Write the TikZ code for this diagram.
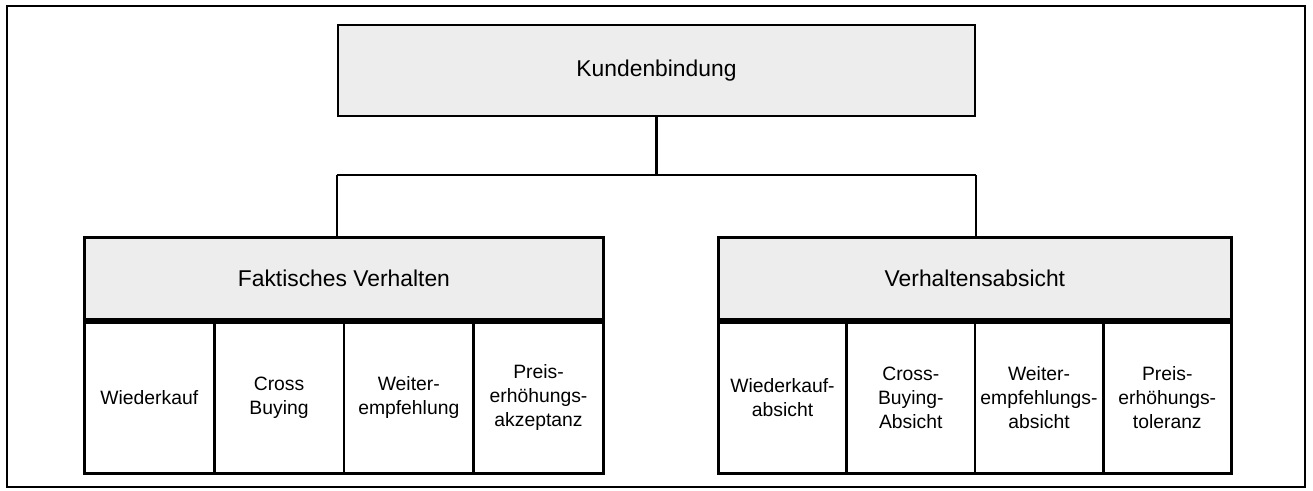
\documentclass[tikz,border=0pt]{standalone}
\usepackage{fontspec}
\setmainfont{Liberation Sans}
\usetikzlibrary{positioning}

\begin{document}
\begin{tikzpicture}[
    x=1cm,y=1cm,
    head/.style={draw,line width=1.6pt,fill=black!7,inner sep=0pt,
      font=\fontsize{13}{15}\selectfont},
    cell/.style={draw,line width=1.6pt,inner sep=0pt,align=center,
      minimum height=3.02cm,anchor=north west,
      font=\fontsize{11}{13.5}\selectfont},
    link/.style={black,line width=1.2pt},
    frame/.style={black,line width=1.5pt}
  ]
    \useasboundingbox (0,0) rectangle (26.26,9.8);
    \draw[frame] (0.14,0.06) rectangle (26.10,9.68);

    % Top concept and its two groups.
    \node[head,minimum width=12.74cm,minimum height=1.82cm] (kb) at (13.13,8.39) {Kundenbindung};
    \node[head,minimum width=10.38cm,minimum height=1.64cm,anchor=north west] (fv) at (1.66,5.08) {Faktisches Verhalten};
    \node[head,minimum width=10.26cm,minimum height=1.64cm,anchor=north west] (va) at (14.34,5.08) {Verhaltensabsicht};

    % Branching lines below the top box.
    \coordinate (bar) at (0,6.30);
    \draw[link] (kb.south) -- (kb.south |- bar);
    \draw[link] (kb.west |- bar) -- (kb.east |- bar);
    \draw[link] (kb.west |- bar) -- (kb.west |- fv.north);
    \draw[link] (kb.east |- bar) -- (kb.east |- va.north);

    % Four cells under each group.
    \foreach \txt [count=\i from 0] in {Wiederkauf,{Cross\\Buying},{Weiter-\\empfehlung},{Preis-\\erhöhungs-\\akzeptanz}}
      \node[cell,minimum width=2.595cm,xshift=\i*2.595cm] (fv\i) at (fv.south west) {\txt};
    \foreach \txt [count=\i from 0] in {{Wiederkauf-\\absicht},{Cross-\\Buying-\\Absicht},{Weiter-\\empfehlungs-\\absicht},{Preis-\\erhöhungs-\\toleranz}}
      \node[cell,minimum width=2.565cm,xshift=\i*2.565cm] (va\i) at (va.south west) {\txt};
  \end{tikzpicture}
\end{document}
